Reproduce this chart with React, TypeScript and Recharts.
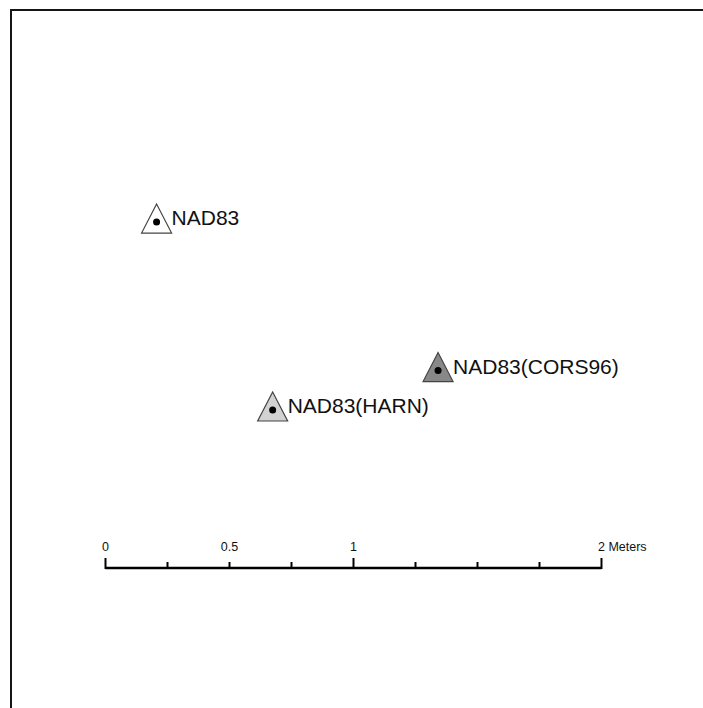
import React from "react";
import {
  ScatterChart,
  Scatter,
  XAxis,
  YAxis,
  ReferenceLine,
} from "recharts";

// datum names and offsets (meters)
const datumNames = ["NAD83", "NAD83(CORS96)", "NAD83(HARN)"];
const datumX = [0.206, 1.341, 0.674];
const datumY = [1.395, 0.796, 0.637];
const datumFill = ["#ffffff", "#888888", "#d2d2d2"];

// scale bar
const scaleTicks = [0, 0.25, 0.5, 0.75, 1, 1.25, 1.5, 1.75, 2];
const scaleMajor = [0, 1, 2];
const scaleLabelValues = [0, 0.5, 1, 2];
const scaleLabelText = ["0", "0.5", "1", "2 Meters"];

const W = 703;
const H = 708;

const points = datumNames.map((name, i) => ({
  name,
  x: datumX[i],
  y: datumY[i],
  fill: datumFill[i],
}));
const tickData = scaleTicks.map((v) => ({ x: v, y: 0, major: scaleMajor.includes(v) }));
const labelData = scaleLabelValues.map((v, i) => ({ x: v, y: 0, text: scaleLabelText[i] }));

const FONT = "'Liberation Sans', Arial, sans-serif";

const Marker = (props: any) => {
  const { cx, cy, payload } = props;
  const pts = `${cx},${cy - 18} ${cx - 15},${cy + 11} ${cx + 15},${cy + 11}`;
  return (
    <g>
      <polygon points={pts} fill={payload.fill} stroke="#444" strokeWidth={1.2} />
      <circle cx={cx} cy={cy} r={3.5} fill="#000" />
      <text x={cx + 15} y={cy + 3} fontSize={21} fontFamily={FONT} fill="#111">
        {payload.name}
      </text>
    </g>
  );
};

const TickMark = (props: any) => {
  const { cx, cy, payload } = props;
  const h = payload.major ? 10 : 6;
  return <line x1={cx} x2={cx} y1={cy - h} y2={cy + 1} stroke="#000" strokeWidth={2} />;
};

const TickLabel = (props: any) => {
  const { cx, cy, payload } = props;
  const last = payload.text.length > 3;
  return (
    <text
      x={last ? cx - 3.5 : cx}
      y={cy - 17}
      textAnchor={last ? "start" : "middle"}
      fontSize={12.5}
      fontFamily={FONT}
      fill="#111"
    >
      {payload.text}
    </text>
  );
};

export default function App() {
  return (
    <div
      style={{
        position: "absolute",
        left: 0,
        top: 0,
        width: W,
        height: H,
        overflow: "hidden",
        background: "#fff",
      }}
    >
      <div
        style={{
          position: "absolute",
          left: 10,
          top: 9,
          width: 760,
          height: 760,
          border: "2px solid #151515",
        }}
      />
      <div style={{ position: "absolute", left: 0, top: 0 }}>
        <ScatterChart width={W} height={H} margin={{ top: 0, right: 0, bottom: 0, left: 0 }}>
          <XAxis type="number" dataKey="x" domain={[-0.4254, 2.4093]} hide allowDataOverflow />
          <YAxis type="number" dataKey="y" domain={[-0.5645, 2.2903]} hide allowDataOverflow />
          <ReferenceLine
            segment={[
              { x: 0, y: 0 },
              { x: 2, y: 0 },
            ]}
            stroke="#000"
            strokeWidth={2.5}
          />
          <Scatter data={tickData} shape={TickMark} isAnimationActive={false} />
          <Scatter data={labelData} shape={TickLabel} isAnimationActive={false} />
          <Scatter data={points} shape={Marker} isAnimationActive={false} />
        </ScatterChart>
      </div>
    </div>
  );
}
